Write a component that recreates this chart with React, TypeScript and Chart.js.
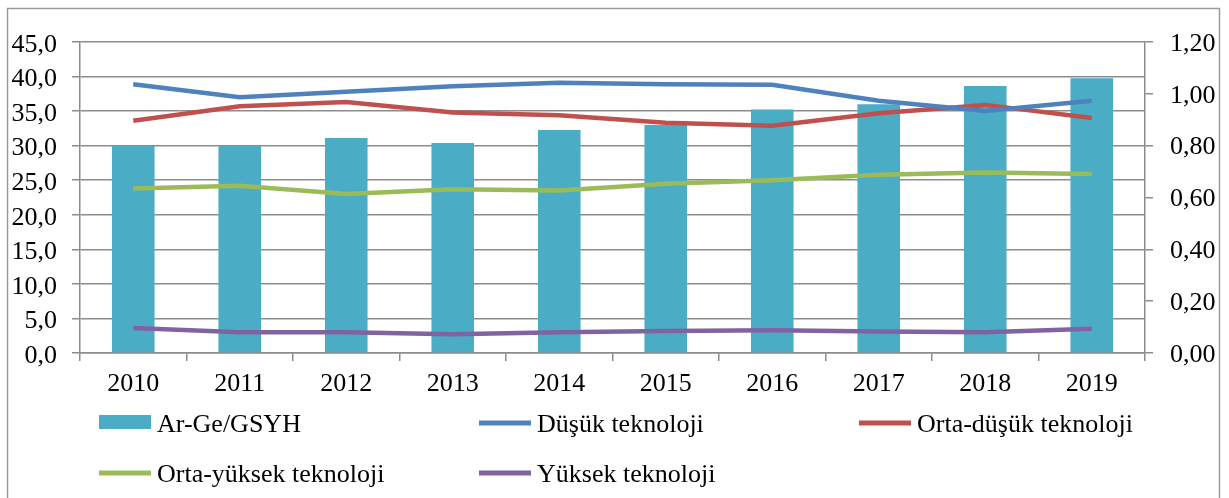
import React, { useEffect, useRef } from "react";
import { Chart, registerables } from "chart.js";

Chart.register(...registerables);

const years = ["2010", "2011", "2012", "2013", "2014", "2015", "2016", "2017", "2018", "2019"];
const argeGsyh = [0.80, 0.80, 0.83, 0.81, 0.86, 0.88, 0.94, 0.96, 1.03, 1.06];
const dusuk = [38.9, 37.0, 37.8, 38.6, 39.1, 38.9, 38.8, 36.5, 35.0, 36.5];
const ortaDusuk = [33.6, 35.7, 36.3, 34.8, 34.4, 33.3, 32.9, 34.7, 35.9, 34.0];
const ortaYuksek = [23.8, 24.2, 23.0, 23.7, 23.5, 24.5, 25.0, 25.8, 26.1, 25.9];
const yuksek = [3.6, 3.0, 3.0, 2.7, 3.0, 3.2, 3.3, 3.1, 3.0, 3.5];

const FONT = "'Liberation Serif', 'Times New Roman', serif";
const FS = 26;
const GRID = "#8c8c8c";

const legendItems = [
  { label: "Ar-Ge/GSYH", color: "#4BACC6", type: "bar", x: 99, y: 432 },
  { label: "Düşük teknoloji", color: "#4F81BD", type: "line", x: 479, y: 432 },
  { label: "Orta-düşük teknoloji", color: "#C0504D", type: "line", x: 859, y: 432 },
  { label: "Orta-yüksek teknoloji", color: "#9BBB59", type: "line", x: 99, y: 482 },
  { label: "Yüksek teknoloji", color: "#8064A2", type: "line", x: 479, y: 482 },
];

const framePlugin = {
  id: "frameLegend",
  afterDraw(chart: any) {
    const ctx = chart.ctx;
    ctx.save();
    ctx.strokeStyle = "#9a9a9a";
    ctx.lineWidth = 1.5;
    ctx.strokeRect(7.5, 8.5, 1212, 600);
    ctx.font = `${FS}px ${FONT}`;
    ctx.textBaseline = "alphabetic";
    for (const it of legendItems) {
      if (it.type === "bar") {
        ctx.fillStyle = it.color;
        ctx.fillRect(it.x, it.y - 17, 52, 14);
      } else {
        ctx.strokeStyle = it.color;
        ctx.lineWidth = 5;
        ctx.beginPath();
        ctx.moveTo(it.x, it.y - 9);
        ctx.lineTo(it.x + 52, it.y - 9);
        ctx.stroke();
      }
      ctx.fillStyle = "#000";
      ctx.fillText(it.label, it.x + 58, it.y);
    }
    ctx.restore();
  },
};

export default function App() {
  const ref = useRef<HTMLCanvasElement>(null);
  useEffect(() => {
    document.body.style.margin = "0";
    document.body.style.overflow = "hidden";
    const lineDs = (label: string, data: number[], color: string) => ({
      type: "line" as const,
      label,
      data,
      borderColor: color,
      backgroundColor: color,
      borderWidth: 4.5,
      pointRadius: 0,
      tension: 0,
      yAxisID: "y",
      order: 1,
    });
    const chart = new Chart(ref.current!, {
      type: "bar",
      data: {
        labels: years,
        datasets: [
          {
            type: "bar",
            label: "Ar-Ge/GSYH",
            data: argeGsyh,
            backgroundColor: "#4BACC6",
            borderWidth: 0,
            barPercentage: 0.4,
            categoryPercentage: 1,
            yAxisID: "y1",
            order: 10,
          } as any,
          lineDs("Düşük teknoloji", dusuk, "#4F81BD"),
          lineDs("Orta-düşük teknoloji", ortaDusuk, "#C0504D"),
          lineDs("Orta-yüksek teknoloji", ortaYuksek, "#9BBB59"),
          lineDs("Yüksek teknoloji", yuksek, "#8064A2"),
        ],
      },
      options: {
        responsive: false,
        animation: false,
        layout: { padding: { left: 0, right: 0, top: 42, bottom: 100 } },
        plugins: { legend: { display: false }, tooltip: { enabled: false } },
        scales: {
          x: {
            offset: true,
            grid: { drawOnChartArea: false, offset: true, color: GRID, tickLength: 8, lineWidth: 1.5 },
            border: { color: GRID, width: 1.5 },
            ticks: { color: "#000", font: { family: FONT, size: FS }, padding: 8 },
            afterFit: (s: any) => { s.height = 45; },
          },
          y: {
            position: "left",
            min: 0,
            max: 45,
            ticks: {
              stepSize: 5,
              color: "#000",
              font: { family: FONT, size: FS },
              padding: 15,
              labelOffset: 3,
              callback: (v: any) => Number(v).toFixed(1).replace(".", ","),
            },
            grid: { color: GRID, tickLength: 8, lineWidth: 1.5 },
            border: { color: GRID, width: 1.5 },
            afterFit: (s: any) => { s.width = 80; },
          },
          y1: {
            position: "right",
            min: 0,
            max: 1.2,
            ticks: {
              stepSize: 0.2,
              color: "#000",
              font: { family: FONT, size: FS },
              padding: 17,
              labelOffset: 2,
              callback: (v: any) => Number(v).toFixed(2).replace(".", ","),
            },
            grid: { drawOnChartArea: false, color: GRID, tickLength: 8, lineWidth: 1.5 },
            border: { color: GRID, width: 1.5 },
            afterFit: (s: any) => { s.width = 84; },
          },
        },
      },
      plugins: [framePlugin],
    });
    return () => chart.destroy();
  }, []);
  return (
    <div style={{ position: "absolute", left: 0, top: 0, width: 1229, height: 498, background: "#fff" }}>
      <canvas ref={ref} width={1229} height={498} style={{ display: "block" }} />
    </div>
  );
}
